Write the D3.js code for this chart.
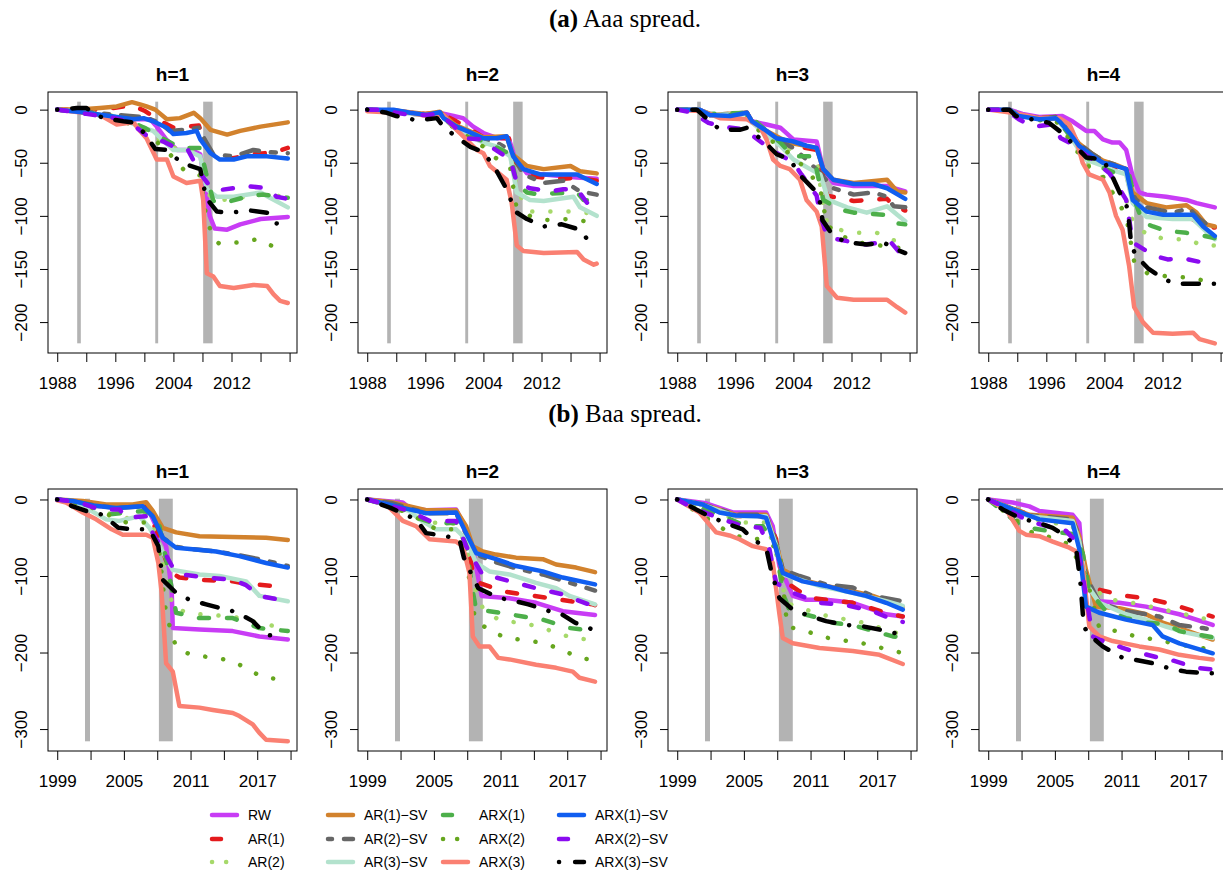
<!DOCTYPE html>
<html>
<head>
<meta charset="utf-8">
<script src="https://cdn.jsdelivr.net/npm/d3@7"></script>
<style>
  body { margin: 0; background: #fff; }
  svg { display: block; font-family: "Liberation Sans", Arial, Helvetica, sans-serif; }
  .fig-title { font-family: "Liberation Serif", "Times New Roman", serif; font-size: 25px; }
</style>
</head>
<body>
<svg id="chart"></svg>
<script>
// series (legend order, column-major in 4 columns of 3)
const seriesNames = ['RW', 'AR(1)', 'AR(2)', 'AR(1)−SV', 'AR(2)−SV', 'AR(3)−SV',
  'ARX(1)', 'ARX(2)', 'ARX(3)', 'ARX(1)−SV', 'ARX(2)−SV', 'ARX(3)−SV'];
const seriesColors = ['#C83CF5', '#E41A1C', '#A6D96A', '#D2822D', '#666666', '#B3E2CD',
  '#4DAF4A', '#66A61E', '#FA8072', '#105EF0', '#8A0BF0', '#000000'];
const seriesTypes = ['solid', 'dashed', 'dotted', 'solid', 'twodash', 'solid',
  'dashed', 'dotted', 'solid', 'solid', 'dashed', 'dotdash'];

// axes
const aaaXDomain = [1988, 2019.75];
const aaaYDomain = [-220, 7.5];
const aaaXTicks = [1988, 1992, 1996, 2000, 2004, 2008, 2012, 2016, 2020];
const aaaXLabels = [1988, 1996, 2004, 2012];
const aaaYTicks = [0, -50, -100, -150, -200];
const aaaRecessions = [[1990.75, 1991.25], [2001.5, 2001.9], [2008.1, 2009.4]];

const baaXDomain = [1999, 2019.75];
const baaYDomain = [-316, 1];
const baaXTicks = [1999, 2002, 2005, 2008, 2011, 2014, 2017, 2020];
const baaXLabels = [1999, 2005, 2011, 2017];
const baaYTicks = [0, -100, -200, -300];
const baaRecessions = [[2001.5, 2001.95], [2008.15, 2009.4]];

// cumulative values, [year, value, year, value, ...] per series, in series order
const aaaH1 = [
  [1988,0, 1992,-3, 1996,-8, 1998.5,-9, 2000.8,-9, 2001.7,-16, 2003,-28, 2004.5,-38, 2006.5,-38, 2007.7,-42, 2008.3,-70, 2009,-100, 2009.7,-112, 2011.4,-113, 2013.2,-108, 2016,-103, 2019.75,-101],
  [1988,0, 1994,0, 1996.2,2, 1998.3,4, 2000,-1, 2002,-10, 2004,-17, 2006,-16, 2007.5,-15, 2008.3,-30, 2009.5,-44, 2012,-46, 2015,-42, 2018,-40, 2019.75,-36],
  [1988,0, 1992,-2, 1996,-6, 1998.5,-12, 2000.3,-18, 2002,-28, 2004,-36, 2006,-36, 2007.7,-38, 2008.5,-75, 2009.5,-86, 2012,-84, 2016,-80, 2019.75,-82],
  [1988,0, 1992,0.5, 1993.9,1.5, 1996.2,3, 1998.3,7, 1999.4,5, 2000.3,3, 2001.5,0, 2003.1,-9, 2004.9,-8, 2006.8,-3, 2007.7,-8, 2009.1,-19, 2011.4,-23.5, 2013.2,-20, 2016,-16, 2019.75,-12],
  [1988,0, 1992,-2, 1996,-5, 1998,-6, 2000,-7, 2002,-12, 2003.5,-20, 2005.5,-19, 2007.5,-17, 2008.3,-28, 2009.5,-42, 2012.3,-44, 2015,-38, 2017,-40, 2019.75,-41],
  [1988,0, 1992,-3, 1996,-8, 1998,-12, 1999.4,-16, 2001.2,-20, 2004,-38, 2005.8,-38, 2007.7,-44, 2008.6,-75, 2010,-82, 2012.3,-82, 2016,-78, 2017.3,-83, 2019.75,-92],
  [1988,0, 1992,-3, 1996,-7, 1998,-11, 2000,-17, 2002,-25, 2004.9,-36, 2007.7,-36, 2008.5,-60, 2009.5,-86, 2010.9,-88, 2014.6,-81, 2016.4,-80, 2019.75,-83],
  [1988,0, 1992,-3, 1996,-8, 1998.9,-16, 2000.3,-22, 2003,-38, 2005.6,-58, 2007.7,-62, 2008.5,-100, 2009.5,-122, 2010.3,-126, 2013,-125, 2015.6,-122, 2017.8,-129, 2019.75,-128],
  [1988,0, 1993.9,-5, 1996.2,-14, 1998.5,-12, 1999.4,-20, 2000.3,-27, 2001.7,-47, 2003.1,-47, 2004,-63, 2005.8,-69, 2007.7,-67, 2008.1,-85, 2008.6,-154, 2009.5,-157, 2010.4,-166, 2012.3,-168, 2015,-165, 2016.9,-166, 2017.8,-174, 2018.7,-180, 2019.75,-182],
  [1988,0, 1992,-3, 1996.2,-7, 1998.5,-9, 1999.9,-8, 2001.2,-11, 2003.1,-17, 2004,-23, 2005.8,-22, 2007.2,-20, 2007.7,-28, 2009.1,-41, 2010.4,-47, 2012.3,-47, 2014.1,-44, 2016.9,-44, 2019.75,-46],
  [1988,0, 1992,-4, 1996,-8, 1998,-12, 2000.8,-27, 2002.6,-30, 2004,-35, 2006,-38, 2007.7,-60, 2008.8,-70, 2010,-76, 2012.3,-74, 2014.1,-72, 2016.9,-74, 2018.2,-82, 2019.75,-84],
  [1988,0, 1990.7,1.5, 1992,1.5, 1994.3,-8, 1997.1,-11, 1998.3,-12, 2000,-22, 2001.5,-37, 2003.1,-38, 2005.1,-50, 2007.7,-56, 2008.5,-83, 2010,-96, 2011.8,-97, 2014.6,-95, 2016.9,-97, 2018,-107, 2019.75,-108]
];

const aaaH2 = [
  [1988,0, 1992,-1, 1994,-3, 1996.2,-5, 1998,-3, 1999.9,-6, 2001.2,-8, 2002.6,-16, 2004,-22, 2006,-27, 2007.5,-27, 2008.3,-45, 2010,-60, 2012.3,-61, 2016.9,-64, 2019.6,-65],
  [1988,0, 1996,-4, 1998,-3, 2000,-10, 2002,-18, 2004,-26, 2007.5,-27, 2008.3,-48, 2010,-62, 2012.3,-64, 2015,-65, 2017,-64, 2019.6,-67],
  [1988,0, 1996,-5, 1998,-5, 2000,-14, 2002,-22, 2004,-32, 2006,-36, 2007.7,-42, 2008.5,-70, 2009.5,-88, 2010.7,-96, 2013,-96, 2016,-96, 2019.6,-98],
  [1988,0, 1992,-1, 1996,-4, 1998,-2, 2000,-14, 2002,-20, 2004,-26, 2007.2,-25, 2008,-42, 2010,-53, 2012.3,-56, 2016,-53, 2017.3,-58, 2019.6,-60],
  [1988,0, 1996,-5, 1998,-3, 2000,-15, 2002,-22, 2004,-28, 2005.8,-31, 2007.7,-38, 2009.5,-61, 2012.3,-69, 2015,-67, 2017.3,-77, 2019.6,-80],
  [1988,0, 1996,-5, 1998,-4, 2000,-17, 2002,-25, 2004,-31, 2006,-35, 2007.7,-44, 2008.6,-78, 2010.4,-85, 2012.3,-86, 2016.4,-82, 2017.3,-92, 2019.6,-100],
  [1988,0, 1996,-5, 1998,-4, 2000,-17, 2002,-24, 2004,-30, 2006,-36, 2007.7,-42, 2008.6,-70, 2010,-78, 2011.8,-80, 2013.2,-79, 2016.9,-78, 2017.8,-85, 2019.6,-86],
  [1988,0, 1996,-5, 1998,-4, 2000,-18, 2002,-26, 2004,-35, 2005.6,-45, 2007.7,-55, 2008.5,-90, 2010.4,-100, 2012.5,-104, 2016,-103, 2018,-105, 2019.6,-100],
  [1988,-1.5, 1992,-3, 1994,-3, 1996.2,-6, 1998.5,-5, 1999.4,-12.5, 2000.3,-19, 2001.2,-25, 2003.1,-38, 2004,-41, 2004.9,-53, 2007.2,-66, 2007.9,-88, 2008.6,-128, 2009.5,-133, 2012.3,-135, 2016.9,-134, 2017.8,-141, 2019.2,-146, 2019.6,-145],
  [1988,0, 1991.6,0, 1993.9,-3, 1996.2,-5, 1998,-2.5, 1998.5,-8, 2000.3,-16, 2001.7,-20, 2004,-27, 2005.8,-27, 2007.2,-25, 2008.1,-44, 2009.5,-56, 2011.8,-61, 2016.9,-61, 2019.6,-70],
  [1988,0, 1990.7,0, 1992,-3, 1993.9,-5, 1996.2,-5, 1998,-4, 2000,-16, 2001.7,-27, 2003.5,-28, 2007.7,-47, 2008.6,-69, 2010.4,-74, 2013.2,-77, 2015,-75, 2016.9,-75, 2018.3,-88, 2019.6,-89],
  [1988,0, 1990.7,-3, 1992,-6, 1994.8,-10, 1997.6,-8, 1998.5,-16, 2000.3,-26, 2002.2,-35, 2004,-40, 2005.6,-55, 2007.2,-75, 2008.4,-96, 2010,-103, 2012.3,-110, 2014.8,-108, 2017.3,-113, 2018.3,-122, 2019.6,-123]
];

const aaaH3 = [
  [1988,0, 1991.1,0, 1992.5,-5, 1995.3,-6, 1997.6,-3, 1998.3,-11, 2000.3,-14, 2002.2,-17, 2004,-28, 2007.2,-30, 2008.1,-56, 2009.5,-69, 2012.3,-72, 2016.9,-72, 2019.4,-77],
  [1988,0, 1991,0, 1992.5,-5, 1997.6,-4, 1998.3,-12, 2000.3,-20, 2002.2,-28, 2004,-34, 2007.2,-38, 2008.1,-62, 2008.6,-81, 2012.3,-86, 2016.9,-84, 2017.8,-91, 2019.4,-95],
  [1988,0, 1991,0, 1992.5,-5, 1997.6,-4, 1998.3,-12, 2000.3,-22, 2002.2,-30, 2004,-40, 2007.2,-48, 2008.1,-90, 2008.6,-105, 2010.2,-113, 2013,-116, 2015.5,-116, 2017.8,-123, 2019.4,-125],
  [1988,0, 1991,0, 1992.5,-5, 1997.6,-3, 1998.3,-11, 2000.3,-20, 2002.2,-27, 2004,-32, 2007.2,-36, 2008.1,-56, 2009.5,-66, 2012.3,-69, 2016.9,-66, 2018.3,-77, 2019.4,-78],
  [1988,0, 1991,0, 1992.5,-5, 1997.6,-3, 1998.3,-12, 2000.3,-22, 2002.2,-30, 2004,-36, 2005.8,-47, 2007.7,-60, 2009.5,-74, 2012.3,-80, 2015,-78, 2016.9,-82, 2017.8,-91, 2019.4,-92],
  [1988,0, 1991,0, 1992.5,-5, 1997.6,-4, 1998.3,-12, 2000.3,-24, 2002.2,-34, 2004,-47, 2006.3,-56, 2007.7,-61, 2008.8,-85, 2011.4,-92, 2014.1,-97, 2016.9,-91, 2018.3,-99, 2019.4,-105],
  [1988,0, 1991,0, 1992.5,-4, 1997.6,-3, 1998.3,-8, 2000.3,-20, 2002.2,-31, 2004,-44, 2006.8,-44, 2008.1,-85, 2010.4,-94, 2012.3,-97, 2016.4,-99, 2018.3,-107, 2019.4,-108],
  [1988,0, 1991,0, 1992.5,-5, 1997.6,-5, 1998.3,-14, 2000.3,-26, 2002.2,-35, 2004,-44, 2006.3,-60, 2007.7,-75, 2008.6,-108, 2010.2,-118, 2013,-125, 2016,-128, 2018.5,-130, 2019.4,-132],
  [1988,0, 1991.6,-1.5, 1993.9,-8, 1997.6,-9, 1999.4,-16, 2000.3,-28, 2001.2,-47, 2002.2,-53, 2003.5,-56, 2004.9,-66, 2005.8,-85, 2007.2,-96, 2007.9,-110, 2008.6,-166, 2010,-177, 2012.3,-179, 2016.9,-179, 2018.3,-186, 2019.4,-191],
  [1988,0, 1991.1,0, 1992.5,-5, 1995.3,-6, 1997.6,-3, 1998.3,-11, 2000.3,-20, 2001.7,-27, 2004,-30, 2005.8,-34, 2007.2,-36, 2008.1,-56, 2009.5,-66, 2012.3,-70, 2015,-70, 2016.9,-74, 2019.4,-84],
  [1988,0, 1990.2,-3, 1992.3,-12.5, 1994.3,-16, 1997.6,-19, 1998.3,-24, 2000.8,-37, 2004,-50, 2005.1,-61, 2007.2,-81, 2007.7,-99, 2008.6,-119, 2010,-122, 2013.9,-127, 2016,-125, 2017.3,-124, 2018.7,-135, 2019.4,-136],
  [1988,0, 1990.7,0, 1992,-8, 1993.9,-19, 1996.6,-19, 1997.6,-17, 1998.5,-22, 2000.1,-31, 2001.7,-42, 2003.5,-47, 2005.1,-63, 2006.8,-75, 2007.7,-88, 2008,-104, 2009.5,-119, 2011.4,-125, 2014.1,-127, 2016.4,-125, 2018.3,-132, 2019.4,-135]
];

const aaaH4 = [
  [1988,0, 1990.9,0, 1992.7,-4, 1995,-7, 1998.2,-6, 1999.6,-11, 2001.5,-20, 2002.6,-20, 2003.8,-28, 2005.1,-31, 2006.1,-31, 2007,-38, 2007.9,-63, 2008.8,-78, 2009.8,-80, 2012.5,-82, 2015.3,-85, 2016.7,-88, 2019.2,-92],
  [1988,0, 1990.9,0, 1992.2,-5, 1995,-8, 1997.3,-7, 1997.8,-12, 1999.2,-22, 2000.5,-34, 2002.4,-46, 2003.8,-52, 2005.6,-56, 2007,-60, 2007.9,-85, 2009.8,-100, 2012.5,-100, 2015.3,-100, 2018,-110, 2019.2,-111],
  [1988,0, 1990.9,0, 1992.2,-5, 1995,-9, 1997.3,-8, 1997.8,-14, 1999.2,-26, 2000.5,-40, 2001.9,-53, 2003.3,-60, 2005.1,-78, 2007,-85, 2007.9,-105, 2009.9,-118, 2012.6,-122, 2015.4,-122, 2017.6,-128, 2019.2,-128],
  [1988,0, 1990.9,0, 1992.2,-5, 1995,-8, 1997.3,-7, 1997.8,-10, 1999.2,-20, 2000.5,-32, 2002.4,-42, 2003.8,-48, 2005.6,-52, 2007,-56, 2007.9,-78, 2009.8,-88, 2012.5,-92, 2015.3,-90, 2016.7,-97, 2018,-108, 2019.2,-110],
  [1988,0, 1990.9,0, 1992.2,-5, 1995,-8, 1997.3,-7, 1997.8,-10, 1999.2,-20, 2000.5,-32, 2002.4,-42, 2003.8,-48, 2005.6,-52, 2007,-56, 2007.9,-80, 2008.4,-85, 2009.8,-92, 2013.4,-97, 2015.7,-93, 2017.1,-103, 2018.5,-110, 2019.2,-111],
  [1988,0, 1990.9,0, 1992.2,-5, 1995,-9, 1997.3,-8, 1997.8,-12, 1999.2,-24, 2000.5,-38, 2001.5,-47, 2003.8,-53, 2005.6,-58, 2007,-61, 2007.9,-88, 2009.8,-101, 2013.4,-103, 2016.2,-103, 2017.6,-112, 2019.2,-122],
  [1988,0, 1990.9,0, 1992.2,-5, 1995,-9, 1997.3,-8, 1997.8,-12, 1999.2,-24, 2000.5,-38, 2002.4,-50, 2003.8,-55, 2005.6,-60, 2007.4,-61, 2008.4,-90, 2009.3,-106, 2010.7,-110, 2012.5,-114, 2015.3,-116, 2017.1,-118, 2019.2,-121],
  [1988,0, 1990.9,0, 1992.2,-6, 1995,-10, 1997.3,-10, 1997.8,-16, 1999.2,-28, 2000.5,-42, 2001.9,-54, 2003.8,-63, 2005.1,-78, 2007,-100, 2008.1,-143, 2009.9,-154, 2012.6,-157, 2015.3,-158, 2017.9,-161, 2019.2,-160],
  [1988,0, 1991.3,-3, 1995,-8, 1997.8,-8, 1999.2,-14, 2000.1,-28, 2001,-50, 2001.9,-61, 2003.8,-66, 2004.7,-78, 2005.6,-100, 2006.5,-113, 2007.4,-147, 2008.1,-186, 2009.3,-200, 2010.7,-210, 2013.4,-211, 2016.2,-210, 2017.1,-216, 2019.2,-220],
  [1988,0, 1990.9,0, 1992.2,-6, 1995,-9, 1997.3,-8, 1997.8,-11, 1999.2,-22, 2000.5,-34, 2002.4,-44, 2003.8,-50, 2005.6,-53, 2007,-56, 2007.9,-85, 2009.8,-96, 2012.1,-99, 2016.2,-99, 2017.6,-110, 2019.2,-119],
  [1988,0, 1990.4,0, 1992.2,-9, 1994.1,-16, 1996.8,-14, 1998,-27, 1999.2,-31, 2000.5,-38, 2002.4,-47, 2004.7,-60, 2005.6,-69, 2007,-85, 2007.4,-103, 2007.9,-125, 2009.8,-133, 2011.6,-139, 2012.7,-141, 2014.8,-140, 2017.6,-144, 2019.2,-147],
  [1988,0, 1990.9,0, 1991.8,-6, 1996.4,-12.5, 1997.8,-20, 1999.8,-33, 2001.5,-45, 2003.8,-47, 2005.1,-63, 2006.1,-78, 2007,-88, 2007.4,-106, 2007.7,-128, 2008.4,-138, 2010.1,-150, 2012.3,-160, 2013.9,-164, 2016.7,-164, 2019.2,-164]
];

const baaH1 = [
  [1999,0, 2002.8,-9, 2007,-7, 2007.9,-35, 2008.8,-61, 2009.3,-118, 2009.4,-168, 2011.8,-170, 2014.8,-172, 2017.2,-179, 2019.75,-183],
  [1999,0, 2002.8,-10, 2007,-8, 2007.9,-40, 2008.8,-80, 2009.1,-94, 2010,-102, 2011.8,-105, 2014.8,-107, 2016,-110, 2018.4,-113, 2019.75,-113],
  [1999,0, 2002.8,-14, 2005,-25, 2007,-20, 2007.9,-45, 2008.8,-100, 2009.4,-140, 2010.8,-149, 2014.8,-153, 2017.5,-163, 2019.75,-168],
  [1999,0, 2001.3,-2, 2003.4,-6.5, 2005.8,-6.5, 2007,-3.5, 2007.6,-15, 2008.5,-37, 2009.7,-43, 2011.8,-48, 2014.8,-49, 2017.8,-50, 2019.75,-53],
  [1999,0, 2001,-4, 2002.5,-8, 2004.3,-11, 2006.7,-9, 2007.6,-22, 2008.5,-50, 2009.7,-62, 2011.2,-65, 2013.3,-68, 2015.4,-73, 2017.8,-80, 2019.75,-87],
  [1999,0, 2001.6,-11, 2003.4,-26, 2004.6,-28, 2006.4,-22, 2007.3,-37, 2008.2,-61, 2009.4,-92, 2011.8,-98, 2013.6,-100, 2016,-107, 2017.2,-126, 2019.75,-133],
  [1999,0, 2002,-8, 2003.4,-20, 2005.2,-17, 2007,-15, 2008.2,-35, 2009.1,-100, 2009.7,-148, 2011.8,-155, 2014.8,-155, 2017.2,-168, 2019.75,-172],
  [1999,0, 2002,-10, 2005.2,-30, 2007,-30, 2008.2,-70, 2008.8,-150, 2009.7,-193, 2011,-203, 2012.7,-206, 2014.5,-210, 2016,-220, 2017.4,-232, 2019.1,-235, 2019.75,-237],
  [1999,-1, 1999.8,-4, 2001.3,-17, 2002.5,-26, 2003.9,-39, 2004.9,-46, 2007,-46, 2007.6,-50, 2008.1,-83, 2008.4,-122, 2008.8,-214, 2009.4,-225, 2010,-270, 2011.8,-272, 2013,-275, 2014.8,-279, 2015.4,-283, 2016.6,-294, 2017.2,-305, 2017.8,-314, 2019.75,-316],
  [1999,0, 2000.4,-2, 2002.2,-8, 2004.3,-11, 2006.7,-9, 2007.6,-22, 2008.5,-50, 2009.7,-63, 2011.2,-65, 2013.3,-68, 2015.4,-74, 2017.8,-83, 2019.75,-89],
  [1999,0, 2001,-4, 2002.8,-13, 2004.6,-13, 2005.2,-24, 2007,-22, 2007.6,-44, 2008.5,-65, 2009.4,-89, 2010.2,-98, 2012.4,-102, 2014.8,-105, 2016,-112, 2017.2,-126, 2019.75,-133],
  [1999,0, 2000.4,-9, 2001.6,-15, 2003.1,-20, 2004.5,-37, 2005.8,-39, 2007.3,-39, 2008.1,-61, 2008.5,-105, 2009.7,-122, 2010.9,-131, 2012.4,-137, 2014.2,-144, 2015.1,-147, 2016.6,-159, 2017.8,-177, 2019.3,-179]
];

const baaH2 = [
  [1999,0, 2002.2,-4, 2002.8,-11, 2004.3,-14, 2007,-13, 2007.9,-39, 2008.5,-65, 2009.3,-126, 2011.8,-129, 2014.2,-135, 2016.6,-146, 2019.5,-151],
  [1999,0, 2002.8,-12, 2004.3,-16, 2007,-15, 2007.9,-45, 2008.5,-96, 2009.1,-109, 2011.2,-120, 2013,-124, 2015.4,-129, 2019.3,-137, 2019.5,-138],
  [1999,0, 2002.8,-16, 2004.5,-30, 2007,-32, 2007.9,-60, 2008.5,-110, 2009.4,-142, 2010.8,-157, 2012.5,-161, 2014.2,-165, 2016,-174, 2017.5,-181, 2019.5,-184],
  [1999,0, 2001.3,-4, 2004.3,-14, 2007,-14, 2007.9,-35, 2008.5,-61, 2009.4,-68, 2010.6,-72, 2012.4,-76, 2014.8,-78, 2016,-85, 2017.8,-89, 2019.5,-95],
  [1999,0, 2001.3,-5, 2004.3,-18, 2007,-18, 2007.9,-45, 2008.8,-72, 2010.6,-82, 2012.4,-90, 2014.8,-98, 2016.6,-106, 2019.5,-119],
  [1999,0, 2002.8,-15, 2003.7,-26, 2005.2,-39, 2007,-39, 2007.9,-52, 2008.8,-83, 2010,-94, 2011.8,-98, 2014.2,-109, 2016,-116, 2017.2,-126, 2019.3,-136, 2019.5,-137],
  [1999,0, 2002.8,-16, 2003.7,-25, 2005.2,-32, 2007,-30, 2007.9,-60, 2008.5,-120, 2008.8,-144, 2010,-146, 2011.8,-150, 2013,-153, 2014.8,-157, 2017.2,-168, 2019.5,-172],
  [1999,0, 2002.8,-18, 2005.2,-39, 2006.9,-39, 2007.9,-75, 2008.7,-157, 2010,-171, 2011.5,-181, 2013.3,-184, 2015,-188, 2016.6,-197, 2018.1,-207, 2019.5,-210],
  [1999,0, 2000.7,-6.5, 2002.2,-28, 2003.4,-35, 2004.6,-52, 2007,-55, 2007.6,-61, 2008.2,-96, 2008.5,-179, 2009.1,-192, 2010,-192, 2010.8,-207, 2011.8,-209, 2014.2,-216, 2016,-220, 2017.5,-225, 2018.1,-233, 2019.5,-238],
  [1999,0, 2002.8,-13, 2004.3,-18, 2007,-17, 2007.9,-44, 2008.8,-70, 2010.6,-78, 2012.4,-87, 2014.8,-94, 2016.6,-102, 2019.5,-111],
  [1999,0, 2002.8,-15, 2004.6,-28, 2007,-28, 2007.9,-61, 2009.4,-99, 2010.6,-102, 2012.4,-109, 2014.2,-116, 2016.6,-124, 2017.8,-131, 2019.5,-140],
  [1999,0, 2001.1,-11, 2002,-17, 2003.4,-26, 2004.3,-44, 2005.8,-47, 2007.3,-52, 2007.7,-76, 2008.2,-92, 2009,-116, 2010.9,-129, 2011.8,-131, 2013.5,-137, 2015.4,-146, 2016.3,-148, 2017.7,-161, 2019.3,-170]
];

const baaH3 = [
  [1999,0, 2001.6,-5, 2002.8,-11, 2004,-17, 2007,-17, 2007.6,-35, 2008.2,-87, 2009.4,-126, 2010.6,-131, 2012.4,-131, 2014.8,-135, 2016.6,-144, 2017.8,-150, 2019.3,-153],
  [1999,0, 2002.8,-14, 2004.3,-22, 2007,-22, 2007.9,-52, 2008.5,-105, 2010,-120, 2011.2,-129, 2014.8,-135, 2017.8,-148, 2019.3,-153],
  [1999,0, 2002.8,-18, 2005,-30, 2007,-30, 2007.9,-70, 2008.8,-135, 2010.2,-142, 2011.8,-150, 2013.5,-155, 2015.2,-159, 2016.9,-166, 2018.6,-174, 2019.3,-176],
  [1999,0, 2001.3,-6.5, 2004.3,-20, 2007,-20, 2007.9,-57, 2008.5,-92, 2010.3,-105, 2012.4,-113, 2014.8,-120, 2016.6,-126, 2019.3,-140],
  [1999,0, 2001.3,-6.5, 2004.3,-20, 2007,-20, 2007.9,-57, 2008.5,-92, 2010,-100, 2012.4,-111, 2014.8,-115, 2016.6,-126, 2019.3,-133],
  [1999,0, 2001.3,-7, 2004.3,-22, 2007,-22, 2007.9,-60, 2008.5,-98, 2011.8,-113, 2014.8,-122, 2017.8,-133, 2019.3,-139],
  [1999,0, 2002.8,-20, 2005.2,-35, 2006.7,-35, 2007.9,-61, 2008.5,-122, 2009.1,-145, 2011.8,-155, 2013,-161, 2015,-165, 2017.2,-174, 2018.4,-179, 2019.3,-180],
  [1999,0, 2003.2,-39, 2004.8,-50, 2006.5,-52, 2008.2,-65, 2008.9,-166, 2010.6,-172, 2012.2,-180, 2013.9,-184, 2015.7,-188, 2017.4,-194, 2019.1,-200, 2019.3,-201],
  [1999,0, 2001,-17, 2002.5,-43, 2003.7,-47, 2004.6,-52, 2005.8,-61, 2007,-65, 2007.6,-83, 2008.2,-150, 2008.5,-181, 2009.4,-188, 2011.8,-194, 2014.8,-198, 2017.2,-203, 2019.3,-215],
  [1999,0, 2001.3,-6.5, 2002.8,-17, 2004.3,-21, 2006.4,-22, 2007,-24, 2007.9,-65, 2008.5,-96, 2010.3,-107, 2012.4,-113, 2014.2,-120, 2016,-126, 2017.8,-135, 2019.3,-144],
  [1999,0, 2000.4,-11, 2003.1,-26, 2004.9,-35, 2006.5,-37, 2007.3,-65, 2007.9,-109, 2009.4,-122, 2011.8,-135, 2014.2,-138, 2016.6,-146, 2018.4,-157, 2019.3,-160],
  [1999,0, 2000.7,-13, 2001.9,-22, 2003.4,-31, 2004.9,-39, 2005.8,-52, 2007,-63, 2007.5,-96, 2008.2,-129, 2009.4,-144, 2010.9,-152, 2012.4,-159, 2014.2,-164, 2015.4,-165, 2017.2,-170, 2019.3,-177]
];

const baaH4 = [
  [1999,0, 2001.2,-4, 2002.7,-9, 2003.6,-15, 2004.8,-17, 2006.6,-20, 2007.2,-31, 2007.5,-87, 2008.1,-118, 2009,-133, 2010.8,-135, 2013.2,-140, 2016.2,-150, 2019.2,-164],
  [1999,0, 2002.7,-20, 2006.6,-26, 2007.2,-61, 2007.8,-109, 2009,-118, 2011.4,-126, 2013.2,-129, 2015,-135, 2016.2,-140, 2018,-148, 2019.2,-153],
  [1999,0, 2002.7,-25, 2006.6,-35, 2007.2,-60, 2007.8,-100, 2009.4,-129, 2011,-133, 2012.8,-137, 2014.4,-143, 2016.2,-148, 2018,-155, 2019.2,-157],
  [1999,0, 2002.7,-20, 2006.6,-24, 2007.2,-48, 2007.8,-92, 2008.7,-140, 2010.8,-142, 2013.2,-150, 2014.7,-161, 2016.2,-168, 2019.2,-183],
  [1999,0, 2002.7,-21, 2006.6,-26, 2007.2,-50, 2007.8,-100, 2009,-135, 2011.4,-146, 2013.2,-150, 2014.4,-153, 2016.2,-164, 2018.3,-168, 2019.2,-170],
  [1999,0, 2002.7,-22, 2006.6,-28, 2007.2,-55, 2007.8,-110, 2009,-135, 2011.4,-150, 2013.2,-157, 2015,-166, 2016.8,-174, 2019.2,-181],
  [1999,0, 2001.8,-33, 2002.7,-37, 2004.8,-42, 2006.6,-45, 2007.5,-70, 2008.1,-120, 2009.6,-146, 2011.4,-155, 2013.2,-161, 2015,-163, 2016.2,-172, 2018,-177, 2019.2,-180],
  [1999,0, 2002.7,-40, 2003,-44, 2004.8,-50, 2006.3,-59, 2007.8,-100, 2009,-168, 2010.6,-172, 2012.3,-179, 2014,-183, 2015.7,-188, 2017.5,-193, 2019.2,-196],
  [1999,0, 2000.6,-13, 2001.8,-41, 2002.4,-46, 2003.6,-48, 2004.8,-55, 2006.3,-63, 2007.2,-70, 2007.5,-87, 2008.1,-166, 2009,-179, 2010.2,-185, 2012.6,-192, 2014.4,-196, 2016.2,-203, 2018,-207, 2019.2,-209],
  [1999,0, 2001.2,-13, 2003.6,-26, 2006.6,-31, 2007.2,-65, 2007.8,-140, 2009,-148, 2011.4,-157, 2013.8,-164, 2014.7,-179, 2016.2,-188, 2019.2,-201],
  [1999,0, 2000.3,-9, 2002.1,-24, 2003.3,-31, 2006,-41, 2006.9,-55, 2007.5,-100, 2008.4,-179, 2009,-183, 2011.1,-194, 2012,-198, 2014.4,-207, 2015.3,-209, 2017.7,-220, 2019.2,-222],
  [1999,0, 2000.3,-13, 2001.8,-24, 2003.6,-31, 2004.8,-37, 2006,-48, 2006.9,-63, 2007.3,-109, 2007.6,-166, 2008.1,-177, 2009.3,-192, 2011.1,-207, 2012,-209, 2013.8,-214, 2015.6,-222, 2016.8,-225, 2018.6,-227, 2019.2,-227]
];

// ---- layout ----
const width = 1223, height = 875;
const panelLeft = [48, 358, 668, 979];
const panelW = 249;
const lineW = 4.5;

const rows = [
  { tag: '(a)', label: ' Aaa spread.', titleY: 27, top: 92, bottom: 353,
    xDomain: aaaXDomain, yDomain: aaaYDomain, xTicks: aaaXTicks, xLabels: aaaXLabels,
    yTicks: aaaYTicks, recessions: aaaRecessions, panels: [aaaH1, aaaH2, aaaH3, aaaH4] },
  { tag: '(b)', label: ' Baa spread.', titleY: 422, top: 489, bottom: 751,
    xDomain: baaXDomain, yDomain: baaYDomain, xTicks: baaXTicks, xLabels: baaXLabels,
    yTicks: baaYTicks, recessions: baaRecessions, panels: [baaH1, baaH2, baaH3, baaH4] }
];

// dash patterns for round-capped lines
const dashes = {
  solid: null,
  dashed: '10,18',
  dotted: '0.1,18',
  dotdash: '0.1,15,16,15',
  twodash: '5,12,18,12'
};
const legendDashes = {
  solid: null,
  dashed: '9,24',
  dotted: '0.1,14',
  dotdash: '0.1,16,9,16',
  twodash: '4,12,16,12'
};

const pad = d => {
  const r = d[1] - d[0];
  return [d[0] - 0.04 * r, d[1] + 0.04 * r];
};
const pairs = arr => d3.range(0, arr.length, 2).map(i => [arr[i], arr[i + 1]]);
const fmtY = d => (d < 0 ? '\u2212' + Math.abs(d) : String(d));

const svg = d3.select('#chart').attr('width', width).attr('height', height);
svg.append('rect').attr('width', width).attr('height', height).attr('fill', '#fff');

rows.forEach(row => {
  // figure sub-caption
  const cap = svg.append('text')
    .attr('class', 'fig-title')
    .attr('x', 625)
    .attr('y', row.titleY)
    .attr('text-anchor', 'middle');
  cap.append('tspan').attr('font-weight', 'bold').text(row.tag);
  cap.append('tspan').text(row.label);

  row.panels.forEach((panel, col) => {
    const left = panelLeft[col];
    const x = d3.scaleLinear().domain(pad(row.xDomain)).range([left, left + panelW]);
    const y = d3.scaleLinear().domain(pad(row.yDomain)).range([row.bottom, row.top]);
    const g = svg.append('g');

    // recession bands
    g.selectAll('.rec')
      .data(row.recessions)
      .enter()
      .append('rect')
      .attr('x', d => x(d[0]))
      .attr('width', d => x(d[1]) - x(d[0]))
      .attr('y', y(row.yDomain[1]))
      .attr('height', y(row.yDomain[0]) - y(row.yDomain[1]))
      .attr('fill', '#B3B3B3');

    // series
    const line = d3.line().x(d => x(d[0])).y(d => y(d[1]));
    panel.forEach((vals, i) => {
      g.append('path')
        .datum(pairs(vals))
        .attr('d', line)
        .attr('fill', 'none')
        .attr('stroke', seriesColors[i])
        .attr('stroke-width', lineW)
        .attr('stroke-linejoin', 'round')
        .attr('stroke-linecap', 'round')
        .attr('stroke-dasharray', dashes[seriesTypes[i]]);
    });

    // box
    g.append('rect')
      .attr('x', left).attr('y', row.top)
      .attr('width', panelW).attr('height', row.bottom - row.top)
      .attr('fill', 'none').attr('stroke', '#000').attr('stroke-width', 1);

    // y axis
    const yAx = g.append('g')
      .attr('transform', `translate(${left},0)`)
      .call(d3.axisLeft(y).tickValues(row.yTicks).tickSize(8).tickSizeOuter(0).tickFormat(fmtY));
    yAx.select('.domain').remove();
    yAx.selectAll('text')
      .attr('x', null).attr('dy', '0.35em')
      .attr('transform', 'translate(-27,0) rotate(-90)')
      .attr('text-anchor', 'middle')
      .attr('font-size', 17)
      .attr('font-family', '"Liberation Sans", Arial, sans-serif')
      .attr('fill', '#000');

    // x axis
    const xAx = g.append('g')
      .attr('transform', `translate(0,${row.bottom})`)
      .call(d3.axisBottom(x).tickValues(row.xTicks).tickSize(9).tickSizeOuter(0)
        .tickFormat(d => (row.xLabels.includes(d) ? d : '')));
    xAx.select('.domain').remove();
    xAx.selectAll('text')
      .attr('y', 24)
      .attr('dy', '0.71em')
      .attr('font-size', 17)
      .attr('font-family', '"Liberation Sans", Arial, sans-serif')
      .attr('fill', '#000');
    g.selectAll('.tick line').attr('stroke', '#000');

    // panel title
    g.append('text')
      .attr('x', left + panelW / 2)
      .attr('y', row.top - 11)
      .attr('text-anchor', 'middle')
      .attr('font-size', 19)
      .attr('font-weight', 'bold')
      .text('h=' + (col + 1));
  });
});

// legend
const legendX = [212, 328, 443, 559];
const legendY = [815, 839, 862];
const leg = svg.append('g');
seriesNames.forEach((name, i) => {
  const cx = legendX[Math.floor(i / 3)];
  const cy = legendY[i % 3];
  leg.append('line')
    .attr('x1', cx).attr('x2', cx + 25)
    .attr('y1', cy).attr('y2', cy)
    .attr('stroke', seriesColors[i])
    .attr('stroke-width', lineW)
    .attr('stroke-linecap', 'round')
    .attr('stroke-dasharray', legendDashes[seriesTypes[i]]);
  leg.append('text')
    .attr('x', cx + 36)
    .attr('y', cy)
    .attr('dy', '0.35em')
    .attr('font-size', 14)
    .text(name);
});
</script>
</body>
</html>
